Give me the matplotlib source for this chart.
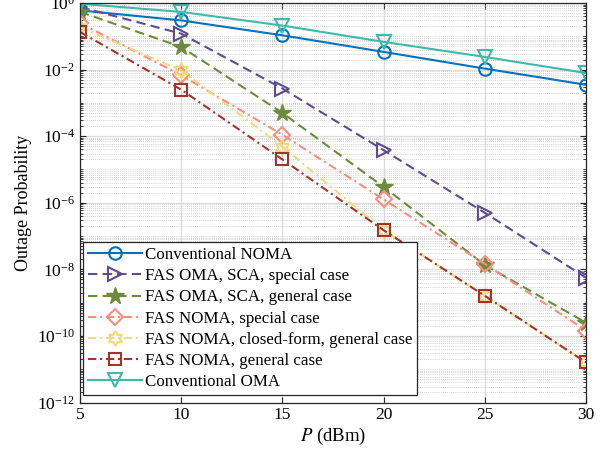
import matplotlib
matplotlib.use('Agg')
import matplotlib.pyplot as plt
import numpy as np
from matplotlib.path import Path
from matplotlib.ticker import LogLocator, NullFormatter

plt.rcParams['font.family'] = ['Liberation Serif', 'DejaVu Serif']
plt.rcParams['mathtext.fontset'] = 'stix'

P = [5, 10, 15, 20, 25, 30]

conv_noma = [0.6, 0.30, 0.107, 0.034, 0.0107, 0.0035]
fas_oma_special = [0.76, 0.12, 0.0027, 3.8e-5, 5e-7, 5.6e-9]
fas_oma_general = [0.54, 0.048, 5e-4, 3e-6, 1.35e-8, 2.5e-10]
fas_noma_special = [0.25, 0.0068, 1.1e-4, 1.26e-6, 1.45e-8, 1.45e-10]
fas_noma_closed = [0.19, 0.0095, 4.8e-5, 1.5e-7, 1.6e-9, 1.6e-11]
fas_noma_general = [0.135, 0.0025, 2e-5, 1.5e-7, 1.6e-9, 1.6e-11]
conv_oma = [0.95, 0.54, 0.21, 0.068, 0.024, 0.0079]

labels = ['Conventional NOMA', 'FAS OMA, SCA, special case', 'FAS OMA, SCA, general case',
          'FAS NOMA, special case', 'FAS NOMA, closed-form, general case',
          'FAS NOMA, general case', 'Conventional OMA']

hexagram = Path.unit_regular_star(6, innerCircle=0.577)
dash = (0, (4.5, 2.5))
dashdot = (0, (4, 1.8, 1, 1.8))
lw = 1.5

fig = plt.figure(figsize=(6.11, 4.57), dpi=100)
ax = fig.add_axes([80 / 611, 1 - 402.5 / 457, 506 / 611, 399.5 / 457])

ax.plot(P, conv_noma, color='#0072BD', ls='-', lw=lw, marker='o', ms=9,
        mfc='none', mew=lw, label=labels[0])
ax.plot(P, fas_oma_special, color='#5E4C8F', ls=dash, lw=lw, marker='>', ms=9.5,
        mfc='none', mew=lw, label=labels[1])
ax.plot(P, fas_oma_general, color='#6E8B3D', ls=dash, lw=lw, marker='*', ms=13,
        mfc='#6E8B3D', mew=1, label=labels[2])
ax.plot(P, fas_noma_special, color='#FF8C7E', ls=dashdot, lw=lw, marker='D', ms=8,
        mfc='none', mew=lw, label=labels[3])
ax.plot(P, fas_noma_closed, color='#F0DA7C', ls=dashdot, lw=lw, marker=hexagram, ms=10.5,
        mfc='none', mew=lw, label=labels[4])
ax.plot(P, fas_noma_general, color='#A2342B', ls=dashdot, lw=lw, marker='s', ms=8,
        mfc='none', mew=lw, label=labels[5])
ax.plot(P, conv_oma, color='#3DBAA9', ls='-', lw=lw, marker='v', ms=9.5,
        mfc='none', mew=lw, label=labels[6])

ax.set_yscale('log')
ax.set_xlim(5, 30)
ax.set_ylim(1e-12, 1e0)
ax.set_xticks(P)
ax.set_yticks([10.0 ** k for k in range(-12, 1, 2)])
ax.yaxis.set_minor_locator(LogLocator(base=10, subs=np.arange(1, 10), numticks=100))
ax.yaxis.set_minor_formatter(NullFormatter())

ax.grid(True, which='major', color='#DCDCDC', lw=0.9, ls='-')
ax.grid(True, which='minor', axis='y', color='#C4C4C4', lw=0.6, ls=(0, (1, 1.5)))
ax.set_axisbelow(True)

ax.tick_params(which='both', direction='in', top=True, right=True, color='#262626',
               labelsize=12.5)
ax.tick_params(which='major', length=4.5, width=0.8)
ax.tick_params(which='minor', length=2.5, width=0.6)
for s in ax.spines.values():
    s.set_color('#262626')
    s.set_linewidth(0.9)

ax.set_xlabel('$P$ (dBm)', fontsize=13.5, labelpad=2)
ax.set_ylabel('Outage Probability', fontsize=13, labelpad=4)

leg = ax.legend(loc='lower left', bbox_to_anchor=(0.006, 0.019), borderaxespad=0,
                fontsize=12.2, handlelength=3.2, handletextpad=0.15, labelspacing=0.3,
                borderpad=0.3, fancybox=False, framealpha=1, edgecolor='#262626')
leg.get_frame().set_linewidth(0.9)

fig.savefig('out.png', dpi=100)
